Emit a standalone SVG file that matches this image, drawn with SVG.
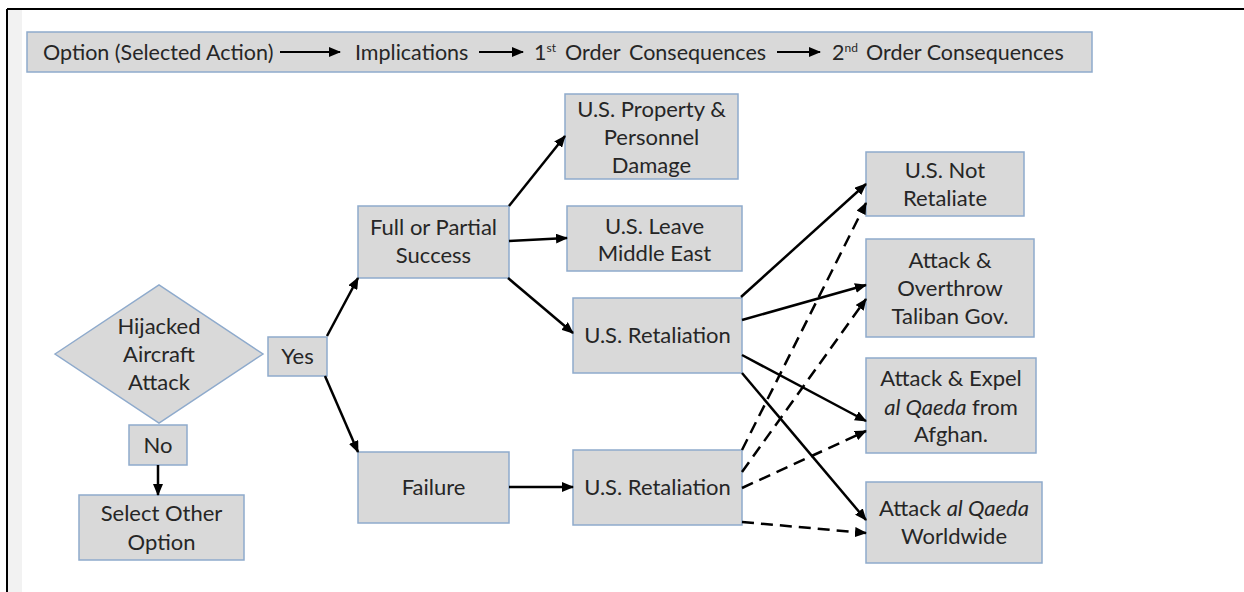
<svg xmlns="http://www.w3.org/2000/svg" width="1244" height="592" viewBox="0 0 1244 592">
<style>
.box{fill:#d9d9d9;stroke:#8eaacc;stroke-width:1.5}
.t{font-family:Lato,"Open Sans",sans-serif;font-size:22px;fill:#262626;text-anchor:middle}
.h{font-family:Lato,"Open Sans",sans-serif;font-size:21.5px;fill:#262626}
.sup{font-size:12px}
.c{fill:none;stroke:#000;stroke-width:2.5;marker-end:url(#ah)}
.d{stroke-dasharray:12 7}
.ha{fill:none;stroke:#000;stroke-width:2.2;marker-end:url(#ah)}
</style>
<defs>
<marker id="ah" markerUnits="userSpaceOnUse" markerWidth="12" markerHeight="10" refX="11" refY="5" orient="auto">
<path d="M0,0 L12,5 L0,10 z" fill="#000"/>
</marker>
</defs>
<rect x="0" y="0" width="1244" height="592" fill="#fff"/>
<rect x="8" y="10" width="14" height="582" fill="#f2f2f2"/>
<line x1="7" y1="9" x2="1244" y2="9" stroke="#000" stroke-width="2"/>
<line x1="7" y1="9" x2="7" y2="592" stroke="#000" stroke-width="2"/>

<g id="header">
<rect class="box" x="27" y="32" width="1065" height="40"/>
<text class="h" x="43" y="60">Option (Selected Action)</text>
<text class="h" x="355" y="60">Implications</text>
<text class="h" x="534" y="60">1<tspan class="sup" dy="-8">st</tspan><tspan x="565" dy="8">Order</tspan><tspan x="629">Consequences</tspan></text>
<text class="h" x="832" y="60">2<tspan class="sup" dy="-8">nd</tspan><tspan x="866" dy="8">Order Consequences</tspan></text>
<line class="ha" x1="280" y1="52" x2="340" y2="52"/>
<line class="ha" x1="479" y1="52" x2="523" y2="52"/>
<line class="ha" x1="777" y1="52" x2="820" y2="52"/>
</g>

<g id="decision">
<polygon class="box" points="55,354 159,285 263,354 159,423"/>
<text class="t" x="159" y="334">Hijacked</text>
<text class="t" x="159" y="362">Aircraft</text>
<text class="t" x="159" y="390">Attack</text>
</g>
<g id="yes"><rect class="box" x="268" y="337" width="59" height="39"/><text class="t" x="297.5" y="364">Yes</text></g>
<g id="no"><rect class="box" x="129" y="425" width="58" height="40"/><text class="t" x="158" y="453">No</text></g>
<g id="select"><rect class="box" x="79" y="495" width="165" height="65"/><text class="t" x="161.5" y="521">Select Other</text><text class="t" x="161.5" y="550">Option</text></g>
<g id="full"><rect class="box" x="358" y="206" width="151" height="72"/><text class="t" x="433.5" y="235">Full or Partial</text><text class="t" x="433.5" y="263">Success</text></g>
<g id="failure"><rect class="box" x="358" y="452" width="151" height="71"/><text class="t" x="433.5" y="495">Failure</text></g>
<g id="property"><rect class="box" x="565" y="94" width="173" height="85"/><text class="t" x="651.5" y="117">U.S. Property &amp;</text><text class="t" x="651.5" y="145">Personnel</text><text class="t" x="651.5" y="173">Damage</text></g>
<g id="leave"><rect class="box" x="567" y="206" width="175" height="65"/><text class="t" x="654.5" y="234">U.S. Leave</text><text class="t" x="654.5" y="261">Middle East</text></g>
<g id="retTop"><rect class="box" x="573" y="298" width="169" height="75"/><text class="t" x="657.5" y="343">U.S. Retaliation</text></g>
<g id="retBot"><rect class="box" x="573" y="450" width="169" height="75"/><text class="t" x="657.5" y="495">U.S. Retaliation</text></g>
<g id="notRet"><rect class="box" x="866" y="152" width="158" height="64"/><text class="t" x="945" y="178">U.S. Not</text><text class="t" x="945" y="206">Retaliate</text></g>
<g id="overthrow"><rect class="box" x="866" y="239" width="168" height="98"/><text class="t" x="950" y="268">Attack &amp;</text><text class="t" x="950" y="296">Overthrow</text><text class="t" x="950" y="324">Taliban Gov.</text></g>
<g id="expel"><rect class="box" x="866" y="358" width="170" height="95"/><text class="t" x="951" y="386">Attack &amp; Expel</text><text class="t" x="951" y="415"><tspan font-style="italic">al Qaeda</tspan> from</text><text class="t" x="951" y="442">Afghan.</text></g>
<g id="worldwide"><rect class="box" x="866" y="482" width="176" height="81"/><text class="t" x="954" y="516">Attack <tspan font-style="italic">al Qaeda</tspan></text><text class="t" x="954" y="544">Worldwide</text></g>

<g id="connectors">
<line class="c" x1="158" y1="465" x2="158" y2="495"/>
<line class="c" x1="327" y1="336" x2="358" y2="278"/>
<line class="c" x1="325" y1="376" x2="358" y2="452"/>
<line class="c" x1="509" y1="206" x2="565" y2="136"/>
<line class="c" x1="509" y1="241" x2="567" y2="238"/>
<line class="c" x1="508" y1="278" x2="573" y2="333"/>
<line class="c" x1="509" y1="487" x2="573" y2="487"/>
<line class="c" x1="741" y1="297" x2="866" y2="184"/>
<line class="c" x1="742" y1="320" x2="866" y2="285"/>
<line class="c" x1="742" y1="355" x2="866" y2="421"/>
<line class="c" x1="742" y1="373" x2="866" y2="520"/>
<line class="c d" x1="742" y1="450" x2="866" y2="203"/>
<line class="c d" x1="742" y1="472" x2="866" y2="299"/>
<line class="c d" x1="742" y1="488" x2="866" y2="431"/>
<line class="c d" x1="742" y1="522" x2="866" y2="533"/>
</g>
</svg>
